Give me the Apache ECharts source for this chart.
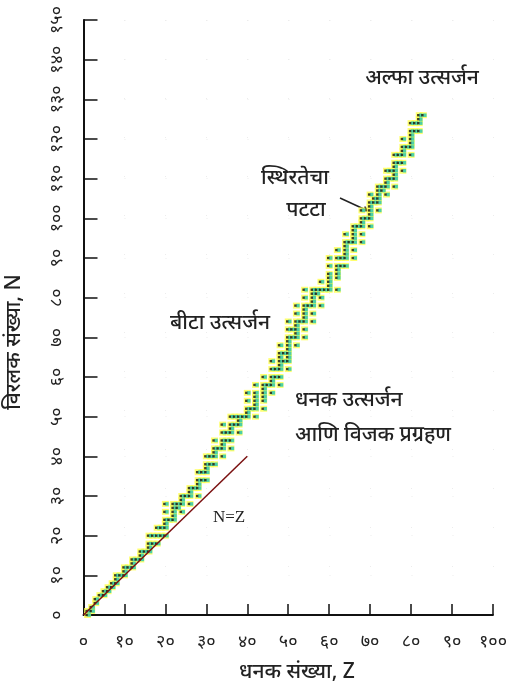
<!DOCTYPE html>
<html>
<head>
<meta charset="utf-8">
<script src="https://cdn.jsdelivr.net/npm/echarts@6/dist/echarts.min.js"></script>
<style>
html,body{margin:0;padding:0;background:#fff;}
#chart{width:510px;height:685px;}
</style>
</head>
<body>
<div id="chart"></div>
<script>
// Tick labels (Devanagari digits)
const xTickLabels = ['०','१०','२०','३०','४०','५०','६०','७०','८०','९०','१००'];
const yTickLabels = ['०','१०','२०','३०','४०','५०','६०','७०','८०','९०','१००','११०','१२०','१३०','१४०','१५०'];

// Proton numbers Z and neutron numbers N of the stable nuclei in the band
const protonNumbers = [1,2,3,4,5,6,7,8,9,10,11,12,13,14,15,16,17,18,19,20,21,22,23,24,25,26,27,28,29,30,31,32,33,34,35,36,37,38,39,40,41,42,43,44,45,46,47,48,49,50,51,52,53,54,55,56,57,58,59,60,61,62,63,64,65,66,67,68,69,70,71,72,73,74,75,76,77,78,79,80,81,82,83];
const neutronLists = [
  [0,1],[1,2],[3,4],[5],[5,6],[6,7],[7,8],[8,9,10],[10],[10,11,12],
  [12],[12,13,14],[14],[14,15,16],[16],[16,17,18,20],[18,20],[18,20,22],[20,22],[20,22,23,24,26,28],
  [24],[24,25,26,27,28],[27,28],[26,28,29,30],[30],[28,30,31,32],[32],[30,32,33,34,36],[34,36],[34,36,37,38,40],
  [38,40],[38,40,41,42,44],[42],[40,42,43,44,46,48],[44,46],[42,44,46,47,48,50],[48,50],[46,48,49,50],[50],[50,51,52,54,56],
  [52],[50,52,53,54,55,56,58],[],[52,54,55,56,57,58,60],[58],[56,58,59,60,62,64],[60,62],[58,60,62,63,64,65,66,68],[64,66],[62,64,65,66,67,68,69,70,72,74],
  [70,72],[68,70,71,72,73,74,76,78],[74],[70,72,74,75,76,77,78,80,82],[78],[74,76,78,79,80,81,82],[81,82],[78,80,82,84],[82],[82,83,84,85,86,88,90],
  [],[82,85,86,87,88,90,92],[88,90],[88,90,91,92,93,94,96],[94],[90,92,94,95,96,97,98],[98],[94,96,98,99,100,102],[100],[98,100,101,102,103,104,106],
  [104,105],[102,104,105,106,107,108],[107,108],[106,108,109,110,112],[110,112],[108,110,111,112,113,114,116],[114,116],[112,114,116,117,118,120],[118],[116,118,119,120,121,122,124],
  [122,124],[122,124,125,126],[126]
];

// N = Z reference line
const lineZ = [0, 40];
const lineN = [0, 40];

const stablePoints = [];
protonNumbers.forEach((z, i) => neutronLists[i].forEach(n => stablePoints.push([z, n])));
const linePoints = lineZ.map((z, i) => [z, lineN[i]]);

const devFont = '"Noto Sans", "Noto Sans Devanagari", sans-serif';
const labelFont = '500 21px ' + devFont;

const chart = echarts.init(document.getElementById('chart'));
chart.setOption({
  backgroundColor: '#ffffff',
  animation: false,
  grid: { left: 83.5, right: 16, top: 20, bottom: 70 },
  xAxis: {
    type: 'value', min: 0, max: 100, interval: 10,
    axisLine: { lineStyle: { color: '#111', width: 2 } },
    axisTick: { inside: true, length: 11, lineStyle: { color: '#111', width: 1.5 } },
    axisLabel: { margin: 18, fontSize: 18, color: '#222', fontFamily: devFont,
      formatter: v => xTickLabels[Math.round(v / 10)] },
    splitLine: { show: true, lineStyle: { color: '#ececec', type: [1, 38], width: 1 } }
  },
  yAxis: {
    type: 'value', min: 0, max: 150, interval: 10,
    axisLine: { lineStyle: { color: '#111', width: 2 } },
    axisTick: { inside: true, length: 14, lineStyle: { color: '#111', width: 1.5 } },
    axisLabel: { margin: 18, rotate: 90, fontSize: 18, color: '#222', fontFamily: devFont,
      formatter: v => yTickLabels[Math.round(v / 10)] },
    splitLine: { show: true, lineStyle: { color: '#ececec', type: [1, 40], width: 1 } }
  },
  series: [
    { type: 'scatter', data: stablePoints, symbol: 'rect', symbolSize: [7, 6],
      itemStyle: { color: '#ffff55', opacity: 0.85 }, z: 1 },
    { type: 'scatter', data: stablePoints, symbol: 'rect', symbolSize: [3.5, 3.5], symbolOffset: [1.5, 0],
      itemStyle: { color: '#1fc4b4' }, z: 2 },
    { type: 'scatter', data: stablePoints, symbol: 'rect', symbolSize: [2.4, 2.4], symbolOffset: [-1, 0],
      itemStyle: { color: '#111' }, z: 3 },
    { type: 'line', data: linePoints, symbol: 'none',
      lineStyle: { color: '#7a1010', width: 1.5 }, z: 4 }
  ],
  graphic: [
    { type: 'text', x: 297, y: 672, style: { text: 'धनक संख्या, Z', font: labelFont, fill: '#222', align: 'center', verticalAlign: 'middle' } },
    { type: 'text', x: 14, y: 342, rotation: Math.PI / 2, style: { text: 'विरलक संख्या, N', font: labelFont, fill: '#222', align: 'center', verticalAlign: 'middle' } },
    { type: 'text', x: 422, y: 78, style: { text: 'अल्फा उत्सर्जन', font: labelFont, fill: '#222', align: 'center', verticalAlign: 'middle' } },
    { type: 'text', x: 295, y: 178, style: { text: 'स्थिरतेचा', font: labelFont, fill: '#222', align: 'center', verticalAlign: 'middle' } },
    { type: 'text', x: 306, y: 210, style: { text: 'पटटा', font: labelFont, fill: '#222', align: 'center', verticalAlign: 'middle' } },
    { type: 'line', shape: { x1: 340, y1: 198, x2: 366, y2: 210 }, style: { stroke: '#222', lineWidth: 1.5 } },
    { type: 'polygon', shape: { points: [[370, 212], [362, 211], [365, 206]] }, style: { fill: '#222' } },
    { type: 'text', x: 220, y: 323, style: { text: 'बीटा उत्सर्जन', font: labelFont, fill: '#222', align: 'center', verticalAlign: 'middle' } },
    { type: 'text', x: 295, y: 400, style: { text: 'धनक उत्सर्जन', font: labelFont, fill: '#222', align: 'left', verticalAlign: 'middle' } },
    { type: 'text', x: 295, y: 435, style: { text: 'आणि विजक प्रग्रहण', font: labelFont, fill: '#222', align: 'left', verticalAlign: 'middle' } },
    { type: 'text', x: 229, y: 518, style: { text: 'N=Z', font: '17px "Liberation Serif", serif', fill: '#222', align: 'center', verticalAlign: 'middle' } }
  ]
});
</script>
</body>
</html>
